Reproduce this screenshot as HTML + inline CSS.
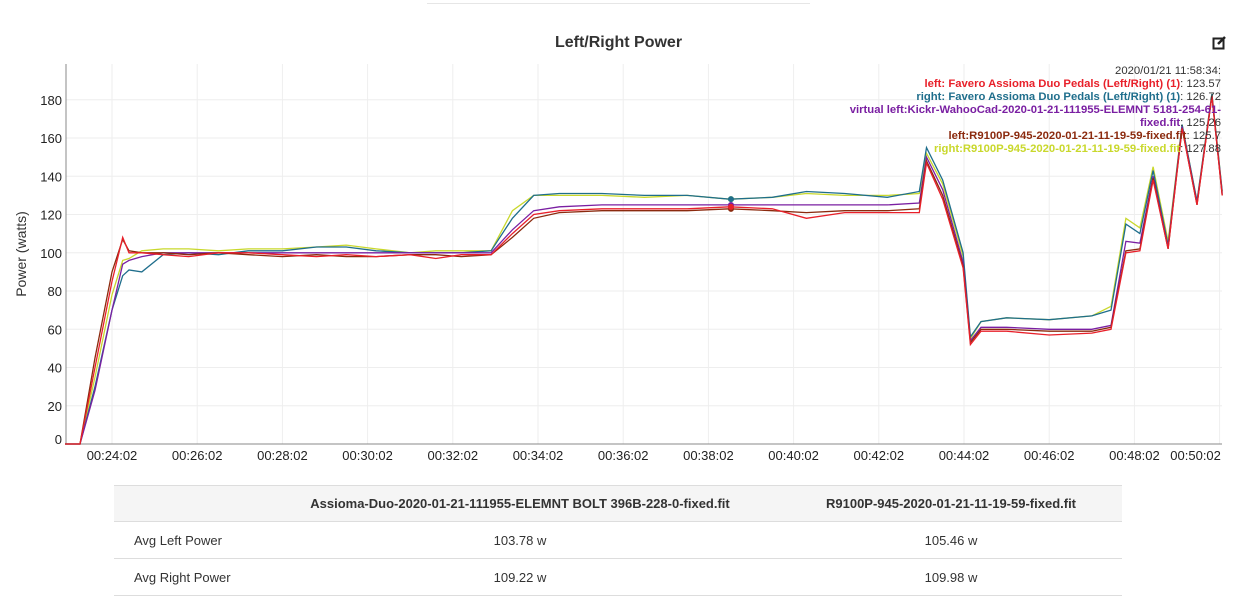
<!DOCTYPE html>
<html><head><meta charset="utf-8">
<style>
body{margin:0;width:1237px;height:605px;background:#fff;font-family:"Liberation Sans",sans-serif;overflow:hidden;position:relative}
#topline{position:absolute;left:427px;top:3px;width:383px;height:1px;background:#e6e6e6}
#title{position:absolute;left:0;width:1237px;top:34px;text-align:center;font-weight:bold;font-size:16px;color:#333}
#edit{position:absolute;left:1212px;top:36px}
#legend{position:absolute;right:16px;top:65px;text-align:right;font-size:11.3px;line-height:13px;color:#333}
#legend b{font-weight:bold}
table{position:absolute;left:114px;top:485px;width:1008px;border-collapse:collapse;font-size:13px;color:#333}
th,td{padding:0;box-sizing:border-box}
th{background:#f5f5f5;height:36px;font-weight:bold;border-top:1px solid #ddd;border-bottom:1px solid #ddd}
td{height:37px;border-bottom:1px solid #ddd;text-align:center}
td.l{text-align:left;padding-left:20px}
</style></head><body>
<div id="topline"></div>
<div id="title">Left/Right Power</div>
<svg id="edit" width="14" height="14"><rect x="1.5" y="2.5" width="10" height="10" fill="none" stroke="#222" stroke-width="2"/><path d="M6 8 L13 1" stroke="#222" stroke-width="2.5"/></svg>
<svg id="chart" width="1237" height="480" style="position:absolute;left:0;top:0"></svg>
<div id="legend">
<div>2020/01/21 11:58:34:</div>
<div><b style="color:#e8202a">left: Favero Assioma Duo Pedals (Left/Right) (1)</b>: 123.57</div>
<div><b style="color:#1f6e8c">right: Favero Assioma Duo Pedals (Left/Right) (1)</b>: 126.72</div>
<div><b style="color:#7a1fa2">virtual left:Kickr-WahooCad-2020-01-21-111955-ELEMNT 5181-254-61-<br>fixed.fit</b>: 125.26</div>
<div><b style="color:#8b2a0e">left:R9100P-945-2020-01-21-11-19-59-fixed.fit</b>: 125.7</div>
<div><b style="color:#c9d82c">right:R9100P-945-2020-01-21-11-19-59-fixed.fit</b>: 127.88</div>
</div>
<table>
<tr><th style="width:146px"></th><th style="width:520px">Assioma-Duo-2020-01-21-111955-ELEMNT BOLT 396B-228-0-fixed.fit</th><th>R9100P-945-2020-01-21-11-19-59-fixed.fit</th></tr>
<tr><td class="l">Avg Left Power</td><td>103.78 w</td><td>105.46 w</td></tr>
<tr><td class="l">Avg Right Power</td><td>109.22 w</td><td>109.98 w</td></tr>
</table>
<script>
const T=[-1.1,-0.75,-0.4,0.0,0.25,0.4,0.7,1.2,1.8,2.5,3.2,4.0,4.8,5.5,6.2,7.0,7.6,8.2,8.9,9.4,9.9,10.5,11.5,12.5,13.5,14.5,15.5,16.3,17.2,18.2,18.95,19.12,19.5,19.98,20.15,20.4,21.0,22.0,23.0,23.45,23.8,24.13,24.44,24.79,25.12,25.47,25.82,26.06];
const leftFavero=[0,0,40,85,108,100,100,99,98,100,100,99,98,99,98,99,97,99,99,110,120,122,123,123,123,124,123,118,121,121,121,147,128,92,52,59,59,57,58,60,100,101,138,102,165,125,182,130];
const rightFavero=[0,0,30,70,88,91,90,99,100,99,101,101,103,103,101,100,100,100,101,118,130,131,131,130,130,128,129,132,131,129,132,155,138,100,56,64,66,65,67,70,115,110,143,104,167,127,183,132];
const virtualLeft=[0,0,28,70,94,96,98,100,100,100,100,100,100,100,100,100,100,100,100,112,122,124,125,125,125,125,125,125,125,125,126,150,133,95,54,61,61,60,60,62,106,105,140,103,166,126,182,131];
const leftR9100=[0,0,45,90,107,101,100,100,99,100,99,98,99,98,98,99,99,98,99,108,118,121,122,122,122,123,122,121,122,122,123,148,130,93,53,60,60,59,59,61,101,102,139,102,165,125,182,130];
const rightR9100=[0,0,35,78,96,97,101,102,102,101,102,102,103,104,102,100,101,101,101,122,130,130,130,129,130,128,129,131,130,130,131,152,136,98,55,64,66,65,67,72,118,113,145,106,167,127,183,132];
const yTicks=[0,20,40,60,80,100,120,140,160,180];
const xTicks=['00:24:02','00:26:02','00:28:02','00:30:02','00:32:02','00:34:02','00:36:02','00:38:02','00:40:02','00:42:02','00:44:02','00:46:02','00:48:02','00:50:02'];
const cursorT=14.53;
const X=t=>112+t*42.6, Y=v=>444-v*1.9125;
const svg=document.getElementById('chart'),NS='http://www.w3.org/2000/svg';
function mk(tag,a){const e=document.createElementNS(NS,tag);for(const k in a)e.setAttribute(k,a[k]);svg.appendChild(e);return e;}
yTicks.forEach(v=>{
 const g=mk('line',{x1:66,x2:1222,y1:Y(v),y2:Y(v),stroke:'#eee'});
 
 
 const t=mk('text',{x:62,y:Y(v)+5-(v===0?5:0),'text-anchor':'end','font-size':13,fill:'#222'});t.textContent=v;
 
 
});
xTicks.forEach((s,i)=>{
 const x=X(i*2);
 const g=mk('line',{x1:x,x2:x,y1:64,y2:444,stroke:'#eee'});
 
 
 const t=mk('text',{x:i==13?x-24:x,y:460,'text-anchor':'middle','font-size':13,fill:'#222'});t.textContent=s;
 
 
});
const ax=mk('path',{d:'M66 64 V444 H1222',fill:'none',stroke:'#888'});


const yl=mk('text',{x:26,y:254,transform:'rotate(-90 26 254)','text-anchor':'middle','font-size':14,fill:'#333'});yl.textContent='Power (watts)';


const series=[[rightR9100,'#c9d82c','series-right-r9100p'],[rightFavero,'#1f6e8c','series-right-favero'],[virtualLeft,'#7a1fa2','series-virtual-left'],[leftR9100,'#8b2a0e','series-left-r9100p'],[leftFavero,'#e8202a','series-left-favero']];
series.forEach(([d,c,n])=>{
 const p=mk('path',{d:d.map((v,i)=>(i?'L':'M')+X(T[i]).toFixed(1)+' '+Y(v).toFixed(1)).join(' '),fill:'none',stroke:c,'stroke-width':1.3});
 
 
 let i=T.findIndex(t=>t>cursorT);const f=(cursorT-T[i-1])/(T[i]-T[i-1]);const v=d[i-1]+f*(d[i]-d[i-1]);
 const dot=mk('circle',{cx:X(cursorT),cy:Y(v),r:3,fill:c});
 
 
});
</script>
</body></html>
